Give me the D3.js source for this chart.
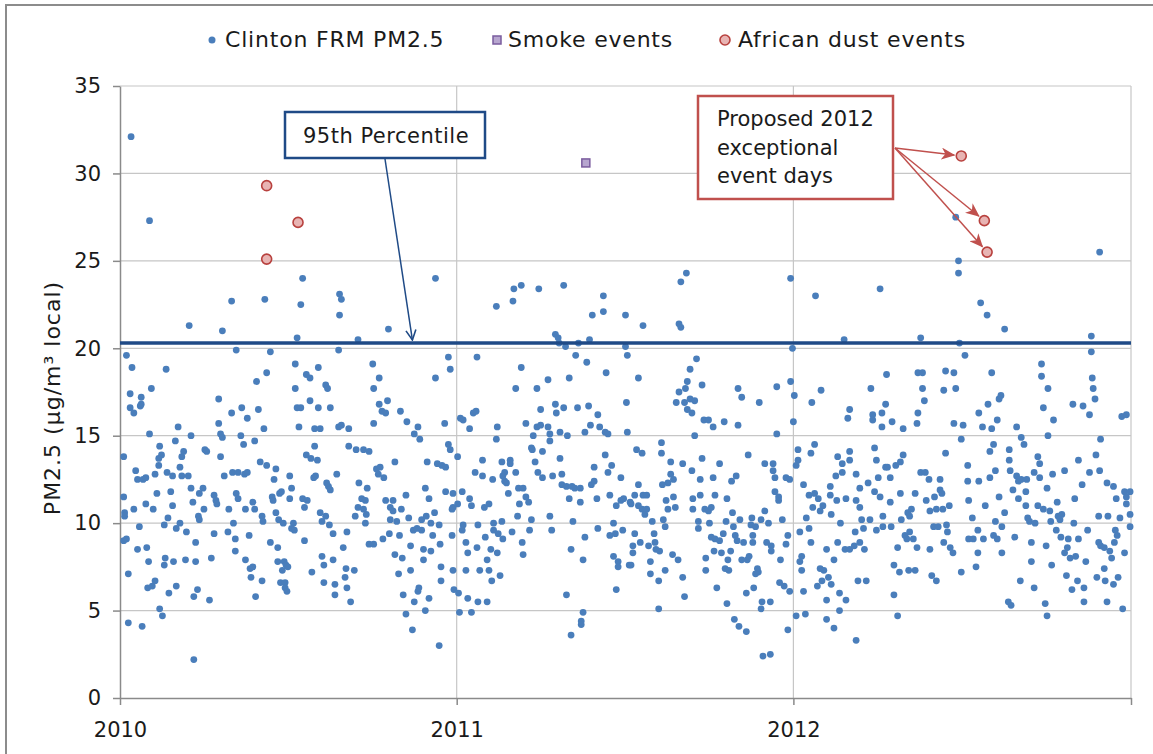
<!DOCTYPE html>
<html>
<head>
<meta charset="utf-8">
<script src="https://cdn.jsdelivr.net/npm/d3@7/dist/d3.min.js"></script>
<style>
    body { margin: 0; background: #ffffff; }
    svg text { font-family: "DejaVu Sans", Verdana, sans-serif; fill: #1a1a1a; }
</style>
</head>
<body>
<div id="chart"></div>
<script>
/* * * * * * * * * * * * * * * * *
 *   Clinton FRM PM2.5 scatter   *
 * * * * * * * * * * * * * * * * */

// daily values, [day of year, PM2.5]
const pm2010 = [
    [12,32.1],[32,27.3],[75,21.3],[121,22.7],[111,21.0],[126,19.9],[157,22.8],[163,19.8],[198,24.0],[196,22.5],
    [192,20.6],[238,23.1],[240,22.8],[238,21.9],[258,20.5],[237,19.9],[7,19.6],[13,18.9],[50,18.8],[11,17.4],
    [23,17.2],[34,17.7],[11,16.6],[22,16.7],[15,16.3],[23,16.8],[63,15.5],[107,17.1],[107,15.7],[121,16.3],
    [132,16.6],[138,16.0],[148,18.1],[159,18.6],[150,16.5],[156,15.4],[190,19.1],[190,17.7],[202,18.5],[206,18.3],
    [215,18.9],[206,17.0],[192,16.6],[196,16.6],[215,16.6],[228,16.6],[223,17.9],[225,17.7],[194,15.5],[211,15.4],
    [217,15.4],[237,15.5],[240,15.6],[248,15.4],
    [32,15.1],[4,13.8],[17,13.0],[19,12.5],[25,12.5],[28,12.6],[4,11.5],[15,10.8],[5,10.6],[5,10.4],
    [21,9.8],[4,9.0],[7,9.1],[19,8.5],[29,8.6],[9,7.1],[31,7.8],[30,6.3],[35,6.4],[38,6.7],
    [43,5.1],[46,4.7],[9,4.3],[24,4.1],[80,2.2],[43,14.4],[45,13.9],[42,13.7],[42,13.3],[38,12.8],
    [51,12.9],[57,12.7],[60,14.7],[67,13.8],[69,14.1],[65,13.2],[67,12.7],[74,12.7],[77,15.0],[77,12.0],
    [40,11.7],[55,11.8],[28,11.1],[36,10.8],[57,11.0],[52,10.3],[48,9.9],[61,9.7],[65,10.0],[72,9.5],
    [79,11.2],[86,11.7],[90,12.0],[91,10.8],[85,10.4],[86,10.2],[82,8.9],[49,8.0],[48,7.6],[58,7.8],
    [71,7.9],[82,7.8],[53,6.0],[61,6.4],[80,5.8],[84,6.2],[97,5.6],[99,8.0],[102,9.4],[92,14.2],
    [94,14.1],[109,15.1],[111,14.9],[109,13.8],[102,11.6],[104,11.3],[105,11.1],[113,12.7],[122,12.9],[128,12.9],
    [135,12.8],[138,12.9],[131,15.0],[134,14.5],[146,14.7],[126,11.7],[128,11.4],[118,10.8],[136,10.8],[123,10.0],
    [117,9.5],[125,9.1],[125,8.4],[140,9.3],[144,11.2],[146,10.8],[152,13.5],[159,13.3],[169,13.1],[167,12.5],
    [154,10.4],[155,10.1],[165,11.5],[166,11.3],[173,11.7],[175,11.8],[184,12.7],[186,12.0],[184,11.4],[169,10.6],
    [172,10.2],[177,10.0],[188,10.0],[186,9.7],[189,9.6],[163,8.9],[171,8.6],[136,7.9],[141,7.4],[144,7.5],
    [142,6.9],[154,6.7],[147,5.8],[171,7.8],[178,7.8],[180,7.6],[182,7.5],[176,7.3],[174,6.6],[179,6.6],
    [179,6.3],[181,6.1],[200,9.0],[208,7.2],[219,8.1],[221,7.6],[231,7.9],[221,6.6],[233,6.5],[233,5.9],
    [242,8.6],[246,9.5],[245,7.4],[244,6.9],[246,6.3],[254,7.3],[250,5.5],[231,9.4],[227,9.9],[223,10.4],
    [219,10.1],[217,10.6],[226,12.1],[228,11.9],[224,12.3],[235,12.8],[210,12.6],[212,12.7],[198,11.4],[203,11.3],
    [200,10.9],[202,13.9],[207,13.7],[214,13.6],[211,14.4],[248,14.4],[256,14.2],[264,14.2],[259,12.3],[268,12.0],
    [262,11.4],[266,11.3],[258,10.9],[264,10.8],[255,10.4],[267,10.5],[266,10.0],[270,8.8],[270,14.1],
    [342,24.0],[291,21.1],[356,19.5],[358,18.8],[342,18.3],[274,19.1],[281,18.3],[275,17.7],[281,16.8],[290,17.0],
    [284,16.4],[288,16.3],[304,16.4],[311,15.8],[323,15.5],[275,15.7],[352,15.7],
    [319,15.1],[325,14.8],[278,13.1],[282,13.2],[280,12.8],[286,12.6],[298,13.5],[288,11.3],[296,11.3],[293,10.9],
    [296,10.7],[305,10.8],[293,10.2],[300,10.1],[310,11.6],[313,10.3],[331,12.0],[335,11.4],[341,10.6],[327,10.2],
    [332,10.4],[337,10.0],[346,9.9],[333,13.5],[344,13.4],[349,13.3],[353,13.2],[356,14.5],[358,14.2],[353,11.8],
    [361,11.7],[361,10.9],[360,10.8],[360,9.3],[361,7.3],[348,7.5],[348,6.7],[362,6.2],[346,3.0],[317,3.9],
    [310,4.8],[307,5.9],[319,5.5],[323,6.1],[324,6.3],[331,5.0],[335,5.7],[315,7.3],[329,7.9],[329,8.5],
    [337,8.4],[302,7.1],[298,8.2],[306,8.0],[315,8.7],[347,8.8],[339,9.3],[285,9.1],[292,9.4],[303,9.3],
    [275,8.8],[318,9.6],[322,9.7],[327,9.6]
];

const pm2011 = [
    [22,19.5],[43,22.4],[61,22.7],[62,23.4],[70,23.6],[89,23.4],[116,23.6],[159,23.0],[147,21.9],[159,22.1],
    [183,21.9],[107,20.8],[110,20.6],[111,20.3],[118,20.1],[132,20.3],[144,20.5],[183,20.1],[185,19.6],[70,18.9],
    [129,19.6],[141,19.2],[162,18.6],[122,18.3],[99,18.2],[64,17.7],[87,17.7],[107,16.8],[108,16.3],[116,16.6],
    [91,16.5],[131,16.6],[143,16.7],[153,16.2],[184,16.9],[4,16.0],[7,15.9],[18,16.3],[21,16.4],[14,15.4],
    [44,15.5],[75,15.7],[87,15.5],[91,15.6],[99,15.5],[145,15.6],[155,15.5],
    [1,13.8],[6,11.8],[14,11.4],[16,11.0],[1,11.1],[7,9.9],[6,9.6],[23,9.9],[30,10.9],[35,11.1],
    [20,12.9],[28,12.7],[28,13.6],[39,12.5],[49,13.5],[58,13.6],[58,13.4],[52,12.9],[50,12.7],[52,12.4],
    [54,12.3],[64,12.9],[56,11.7],[67,12.0],[72,12.0],[75,11.5],[78,11.2],[68,11.1],[66,10.4],[81,10.2],
    [79,9.6],[40,10.0],[49,10.1],[40,9.6],[45,9.4],[50,9.1],[60,9.5],[31,9.2],[10,8.9],[22,8.6],
    [37,8.5],[12,8.3],[44,8.3],[33,7.9],[71,8.9],[72,8.2],[10,7.3],[25,7.3],[35,7.3],[38,6.7],
    [47,7.0],[2,6.0],[12,5.7],[23,5.5],[33,5.5],[3,4.9],[16,4.9],[43,14.8],[83,15.0],[101,15.1],
    [101,14.7],[112,15.2],[120,15.0],[139,15.2],[161,15.2],[164,15.1],[185,15.2],[81,14.3],[82,14.2],[93,14.1],
    [85,13.5],[88,12.9],[93,12.6],[104,12.7],[112,13.7],[114,12.8],[114,12.2],[119,12.1],[125,12.1],[128,12.0],
    [134,12.0],[122,11.4],[134,11.2],[101,10.4],[103,9.6],[126,10.1],[139,9.2],[124,8.5],[137,7.9],[119,5.9],
    [137,4.9],[135,4.4],[135,4.2],[124,3.6],[146,12.2],[149,12.4],[149,13.2],[161,13.9],[168,13.3],[164,12.9],
    [178,12.6],[152,11.4],[166,11.6],[173,11.0],[178,11.3],[181,11.4],[188,11.2],[170,10.0],[180,9.6],[153,9.7],
    [166,9.3],[172,9.4],[170,8.1],[175,7.8],[175,7.5],[187,7.6],[173,6.2],
    [249,24.3],[243,23.8],[202,21.3],[241,21.4],[243,21.2],[362,24.0],[197,18.3],[260,19.4],[253,18.8],[250,18.1],
    [248,17.7],[241,17.5],[266,17.9],[238,16.9],[247,16.9],[253,17.1],[258,17.0],[250,16.5],[255,16.3],[268,15.9],
    [273,15.9],[278,15.5],[290,15.8],[305,17.7],[309,17.2],[305,15.6],[328,16.9],[347,17.8],[362,18.1],[364,20.0],
    [258,15.0],[347,15.1],[222,14.6],[222,14.0],[195,14.2],[201,14.0],[232,13.5],[245,13.4],[255,13.0],[266,13.7],
    [285,13.4],[316,13.9],[334,13.4],[343,13.4],[343,13.0],[232,12.8],[235,12.5],[229,12.3],[223,12.2],[197,12.2],
    [264,12.5],[278,12.6],[298,12.4],[303,12.7],[345,12.6],[357,12.6],[361,12.5],[345,11.8],[349,11.5],[349,11.3],
    [193,11.6],[202,11.6],[206,11.6],[189,11.1],[197,11.0],[201,10.8],[206,10.8],[204,10.5],[227,11.3],[235,11.5],
    [229,10.8],[237,10.9],[256,11.4],[256,10.8],[264,11.6],[269,10.8],[273,10.7],[276,10.9],[280,11.6],[293,11.4],
    [212,10.1],[224,10.2],[226,9.8],[262,10.1],[262,9.7],[274,10.0],[292,10.1],[299,10.6],[300,9.8],[307,10.2],
    [320,10.3],[319,9.9],[324,9.8],[330,10.2],[334,10.7],[338,10.0],[353,10.2],[193,9.4],[191,8.7],[191,8.3],
    [199,8.9],[208,8.7],[214,9.4],[215,8.9],[216,8.5],[220,8.4],[189,7.6],[210,7.8],[210,7.1],[219,6.7],
    [226,7.3],[234,8.2],[240,7.9],[245,6.9],[247,5.8],[219,5.1],[276,9.2],[280,9.1],[285,9.0],[289,9.4],
    [279,8.4],[287,8.3],[297,8.4],[270,8.0],[294,7.9],[291,7.4],[295,7.3],[270,7.3],[302,9.3],[304,9.0],
    [311,8.9],[321,9.3],[321,8.9],[309,7.9],[315,7.9],[317,8.1],[326,7.4],[327,7.2],[324,7.1],[336,8.9],
    [341,8.7],[341,8.4],[351,7.9],[357,8.8],[359,9.3],[350,6.6],[355,6.4],[361,6.1],[282,6.3],[314,6.0],
    [322,6.3],[293,5.4],[331,5.5],[340,5.5],[330,5.1],[301,4.5],[306,4.1],[314,3.8],[359,3.9],[332,2.4],
    [340,2.5]
];

const pm2012 = [
    [24,23.0],[94,23.4],[55,20.5],[1,17.3],[0,15.8],[20,16.9],[30,17.6],[61,16.5],[59,16.0],[84,17.7],
    [86,16.2],[86,15.9],[96,16.3],[100,16.8],[101,18.5],[96,15.5],
    [5,14.2],[5,13.6],[3,13.3],[23,14.5],[19,14.0],[48,13.8],[61,14.1],[53,13.4],[61,13.6],[53,12.9],
    [46,12.7],[68,12.8],[88,14.3],[90,13.6],[100,13.2],[92,12.6],[81,12.3],[72,12.0],[40,12.1],[11,12.2],
    [17,11.6],[23,11.7],[27,11.4],[32,11.0],[40,11.6],[47,11.3],[57,11.4],[68,11.3],[72,10.9],[88,11.8],
    [94,11.5],[21,10.9],[29,10.7],[41,10.5],[14,10.3],[51,10.0],[74,10.2],[83,10.2],[76,9.7],[90,9.6],
    [97,10.4],[97,9.8],[7,9.5],[17,9.7],[19,8.9],[67,9.5],[36,8.5],[48,8.9],[56,8.5],[61,8.5],
    [66,8.7],[72,8.9],[77,8.5],[44,7.9],[9,8.1],[7,7.8],[9,7.3],[29,7.4],[33,7.3],[38,6.9],
    [31,6.7],[41,6.5],[26,6.4],[11,6.1],[50,6.0],[36,5.6],[57,5.6],[70,6.7],[79,6.7],[50,5.0],
    [3,4.7],[13,4.8],[36,4.5],[44,4.0],[68,3.3],
    [176,27.5],[179,25.0],[179,24.3],[203,22.6],[210,21.9],[229,21.1],[138,20.6],[180,20.3],[186,19.6],[332,25.5],
    [323,20.7],[323,19.8],[324,18.3],[325,17.7],[327,17.1],[321,16.2],[269,19.1],[269,18.4],[276,17.7],[271,16.6],
    [282,15.9],[303,16.8],[314,16.7],[356,16.1],[361,16.2],[135,18.6],[140,18.6],[140,17.7],[142,17.0],[135,16.3],
    [134,15.7],[107,15.8],[119,15.4],[165,18.7],[174,18.6],[176,17.7],[163,17.6],[174,15.7],[184,15.6],[201,16.3],
    [211,16.8],[205,15.5],[215,18.6],[223,17.1],[225,17.3],[221,15.9],[215,15.4],[242,15.5],
    [182,14.8],[276,15.0],[333,14.8],[247,14.9],[250,14.5],[217,14.5],[213,14.1],[234,14.2],[234,13.6],[165,14.0],
    [119,13.9],[116,13.5],[111,13.3],[102,13.2],[105,12.6],[105,11.2],[116,11.7],[106,9.8],[117,10.2],[124,10.6],
    [128,10.8],[126,10.4],[132,11.7],[138,12.9],[143,12.9],[147,12.5],[159,12.5],[159,11.9],[161,11.7],[153,11.5],
    [144,11.3],[148,10.7],[155,10.8],[162,10.8],[169,11.0],[152,9.8],[157,9.8],[166,9.9],[167,9.5],[121,9.3],
    [123,9.1],[126,9.5],[130,9.1],[113,8.6],[134,8.6],[109,7.6],[115,7.2],[125,7.3],[132,7.3],[109,5.9],
    [113,4.7],[150,7.0],[155,6.7],[148,8.5],[163,8.9],[170,8.6],[173,8.3],[182,7.2],[189,13.3],[189,12.4],
    [201,12.4],[213,12.6],[219,13.0],[190,11.3],[208,11.0],[223,11.5],[194,10.3],[200,9.6],[219,10.1],[226,9.8],
    [229,10.6],[190,9.1],[195,9.1],[206,9.1],[217,9.3],[221,9.1],[200,8.3],[198,7.5],[226,8.3],[240,9.2],
    [238,11.9],[235,13.0],[242,12.7],[244,12.4],[247,12.5],[253,12.5],[261,12.9],[267,12.6],[265,13.8],[267,13.4],
    [252,11.8],[244,11.4],[252,11.0],[265,11.0],[271,10.8],[254,10.3],[256,10.1],[262,10.0],[258,8.9],[258,7.8],
    [246,6.7],[261,6.3],[233,5.5],[236,5.3],[273,5.4],[275,4.7],[274,8.7],[275,12.0],[281,12.8],[294,13.0],
    [309,13.6],[321,12.9],[328,13.9],[332,13.0],[313,12.2],[340,12.3],[347,12.1],[359,11.8],[365,11.8],[350,11.4],
    [361,11.5],[361,11.1],[305,11.4],[286,11.2],[278,10.7],[279,10.1],[287,10.4],[291,10.5],[289,10.2],[285,9.6],
    [290,9.2],[298,9.1],[304,10.0],[309,9.1],[319,9.6],[331,10.4],[341,10.4],[354,10.3],[365,10.5],[365,9.8],
    [349,9.6],[351,9.3],[348,8.9],[331,8.9],[333,8.7],[337,8.6],[343,8.4],[345,8.0],[359,8.3],[297,8.6],
    [294,8.3],[300,8.0],[306,8.1],[317,7.8],[280,7.6],[296,7.0],[308,6.7],[302,6.2],[315,6.3],[329,6.9],
    [338,6.7],[337,7.4],[347,6.5],[352,6.9],[340,5.5],[315,5.5],[357,5.1]
];

// flagged event days
const smokeDates = ["2011-05-21"];
const smokeValues = [30.6];
const dustDates = ["2010-06-09", "2010-06-09", "2010-07-13", "2012-07-01", "2012-07-26", "2012-07-29"];
const dustValues = [29.3, 25.1, 27.2, 31.0, 27.3, 25.5];

const pct95 = 20.3;
const pctArrowDate = "2010-11-14";

const yTicks = [0, 5, 10, 15, 20, 25, 30, 35];
const yearTicks = [2010, 2011, 2012, 2013];

const legendItems = ["Clinton FRM PM2.5", "Smoke events", "African dust events"];
const yLabel = "PM2.5 (\u00b5g/m\u00b3 local)";
const pctLabel = "95th Percentile";
const eventLabel = ["Proposed 2012", "exceptional", "event days"];

// ---------------------------------------------------------------

const W = 1153, H = 754;
const margin = { top: 86, right: 22, bottom: 56, left: 120 };
const width = W - margin.left - margin.right;
const height = H - margin.top - margin.bottom;

const blue = "#4a7ebb";
const navy = "#1f4a86";
const red = "#c0504d";
const gridColor = "#c6c6c6";
const axisColor = "#8a8a8a";

const parse = d3.timeParse("%Y-%m-%d");
const fromDoy = (year, doy) => d3.timeDay.offset(new Date(year, 0, 1), doy);

let points = [];
[[2010, pm2010], [2011, pm2011], [2012, pm2012]].forEach(([yr, arr]) => {
    arr.forEach(d => points.push({ date: fromDoy(yr, d[0]), value: d[1] }));
});
const smoke = smokeDates.map((d, i) => ({ date: parse(d), value: smokeValues[i] }));
const dust = dustDates.map((d, i) => ({ date: parse(d), value: dustValues[i] }));

const svg = d3.select("#chart").append("svg")
    .attr("width", W)
    .attr("height", H);

// outer chart frame (cut off at right/bottom like the source)
svg.append("rect")
    .attr("x", 6).attr("y", 5)
    .attr("width", W + 20).attr("height", H + 20)
    .attr("fill", "#ffffff")
    .attr("stroke", "#8c8c8c")
    .attr("stroke-width", 2);

const defs = svg.append("defs");
defs.append("marker")
    .attr("id", "openArrow")
    .attr("viewBox", "0 0 12 12")
    .attr("refX", 11).attr("refY", 6)
    .attr("markerWidth", 12).attr("markerHeight", 12)
    .attr("markerUnits", "userSpaceOnUse")
    .attr("orient", "auto")
    .append("path")
    .attr("d", "M1,1 L11,6 L1,11")
    .attr("fill", "none")
    .attr("stroke", navy)
    .attr("stroke-width", 1.6);
defs.append("marker")
    .attr("id", "redArrow")
    .attr("viewBox", "0 0 14 12")
    .attr("refX", 13).attr("refY", 6)
    .attr("markerWidth", 14).attr("markerHeight", 12)
    .attr("markerUnits", "userSpaceOnUse")
    .attr("orient", "auto")
    .append("path")
    .attr("d", "M0,0 L14,6 L0,12 L4,6 Z")
    .attr("fill", red);

const g = svg.append("g")
    .attr("transform", "translate(" + margin.left + "," + margin.top + ")");

const x = d3.scaleTime()
    .domain([new Date(2010, 0, 1), new Date(2013, 0, 1)])
    .range([0, width]);
const y = d3.scaleLinear()
    .domain([0, 35])
    .range([height, 0]);

// gridlines
g.append("g").selectAll("line")
    .data(yTicks.filter(v => v > 0))
    .join("line")
    .attr("x1", 0).attr("x2", width)
    .attr("y1", d => y(d)).attr("y2", d => y(d))
    .attr("stroke", gridColor)
    .attr("stroke-width", 1.2);
g.append("g").selectAll("line")
    .data(yearTicks.slice(1))
    .join("line")
    .attr("x1", d => x(new Date(d, 0, 1))).attr("x2", d => x(new Date(d, 0, 1)))
    .attr("y1", 0).attr("y2", height)
    .attr("stroke", gridColor)
    .attr("stroke-width", 1.2);

// axes
const yAxis = g.append("g")
    .call(d3.axisLeft(y).tickValues(yTicks).tickSize(7).tickSizeOuter(0).tickPadding(12));
const xAxis = g.append("g")
    .attr("transform", "translate(0," + height + ")")
    .call(d3.axisBottom(x)
        .tickValues(yearTicks.map(d => new Date(d, 0, 1)))
        .tickFormat(d => d.getFullYear() < 2013 ? d3.timeFormat("%Y")(d) : "")
        .tickSize(7).tickSizeOuter(0).tickPadding(17));
[yAxis, xAxis].forEach(a => {
    a.selectAll("path, line").attr("stroke", axisColor).attr("stroke-width", 1.5);
    a.selectAll("text").attr("font-size", 21).attr("font-family", null).attr("fill", "#1a1a1a");
});

// daily points
g.append("g").selectAll("circle")
    .data(points)
    .join("circle")
    .attr("cx", d => x(d.date))
    .attr("cy", d => y(d.value))
    .attr("r", 3.4)
    .attr("fill", blue);

// 95th percentile line
g.append("line")
    .attr("x1", 0).attr("x2", width)
    .attr("y1", y(pct95)).attr("y2", y(pct95))
    .attr("stroke", navy)
    .attr("stroke-width", 3.5);

// smoke and dust events
g.append("g").selectAll("rect")
    .data(smoke)
    .join("rect")
    .attr("x", d => x(d.date) - 4)
    .attr("y", d => y(d.value) - 4)
    .attr("width", 8).attr("height", 8)
    .attr("fill", "#b7a6cf")
    .attr("stroke", "#7a5c9e")
    .attr("stroke-width", 1.5);
g.append("g").selectAll("circle")
    .data(dust)
    .join("circle")
    .attr("cx", d => x(d.date))
    .attr("cy", d => y(d.value))
    .attr("r", 5)
    .attr("fill", "#e8b4b3")
    .attr("stroke", "#b8413e")
    .attr("stroke-width", 1.6);

// 95th percentile callout
const pctBox = { x: 165, y: 26, w: 200, h: 46 };
g.append("line")
    .attr("x1", 265).attr("y1", pctBox.y + pctBox.h + 1)
    .attr("x2", x(parse(pctArrowDate)))
    .attr("y2", y(pct95) - 3)
    .attr("stroke", navy)
    .attr("stroke-width", 1.5)
    .attr("marker-end", "url(#openArrow)");
g.append("rect")
    .attr("x", pctBox.x).attr("y", pctBox.y)
    .attr("width", pctBox.w).attr("height", pctBox.h)
    .attr("fill", "#ffffff")
    .attr("stroke", navy)
    .attr("stroke-width", 2.5);
g.append("text")
    .attr("x", pctBox.x + 18).attr("y", pctBox.y + 31)
    .attr("font-size", 21)
    .attr("letter-spacing", 0.5)
    .text(pctLabel);

// exceptional event callout
const evBox = { x: 578, y: 10, w: 195, h: 103 };
const origin = [evBox.x + evBox.w + 2, 62];
const targets = dust.filter(d => d.date.getFullYear() === 2012);
g.append("g").selectAll("line")
    .data(targets)
    .join("line")
    .attr("x1", origin[0]).attr("y1", origin[1])
    .attr("x2", d => {
        const dx = x(d.date) - origin[0], dy = y(d.value) - origin[1];
        return x(d.date) - dx / Math.hypot(dx, dy) * 7;
    })
    .attr("y2", d => {
        const dx = x(d.date) - origin[0], dy = y(d.value) - origin[1];
        return y(d.value) - dy / Math.hypot(dx, dy) * 7;
    })
    .attr("stroke", red)
    .attr("stroke-width", 1.5)
    .attr("marker-end", "url(#redArrow)");
g.append("rect")
    .attr("x", evBox.x).attr("y", evBox.y)
    .attr("width", evBox.w).attr("height", evBox.h)
    .attr("fill", "#ffffff")
    .attr("stroke", red)
    .attr("stroke-width", 2.5);
g.append("g").selectAll("text")
    .data(eventLabel)
    .join("text")
    .attr("x", evBox.x + 19)
    .attr("y", (d, i) => evBox.y + 30 + i * 28.5)
    .attr("font-size", 21)
    .text(d => d);

// y axis title
svg.append("text")
    .attr("transform", "translate(60,398) rotate(-90)")
    .attr("text-anchor", "middle")
    .attr("font-size", 22)
    .attr("letter-spacing", 1)
    .text(yLabel);

// legend
const legend = svg.append("g");
legend.append("circle").attr("cx", 212).attr("cy", 40).attr("r", 3.5).attr("fill", blue);
legend.append("rect").attr("x", 493).attr("y", 36).attr("width", 8).attr("height", 8)
    .attr("fill", "#b7a6cf").attr("stroke", "#7a5c9e").attr("stroke-width", 1.5);
legend.append("circle").attr("cx", 725).attr("cy", 40).attr("r", 5)
    .attr("fill", "#e8b4b3").attr("stroke", "#b8413e").attr("stroke-width", 1.6);
legend.selectAll("text")
    .data(legendItems)
    .join("text")
    .attr("x", (d, i) => [225, 508, 738][i])
    .attr("y", 47)
    .attr("font-size", 22)
    .attr("letter-spacing", 0.8)
    .text(d => d);
</script>
</body>
</html>
